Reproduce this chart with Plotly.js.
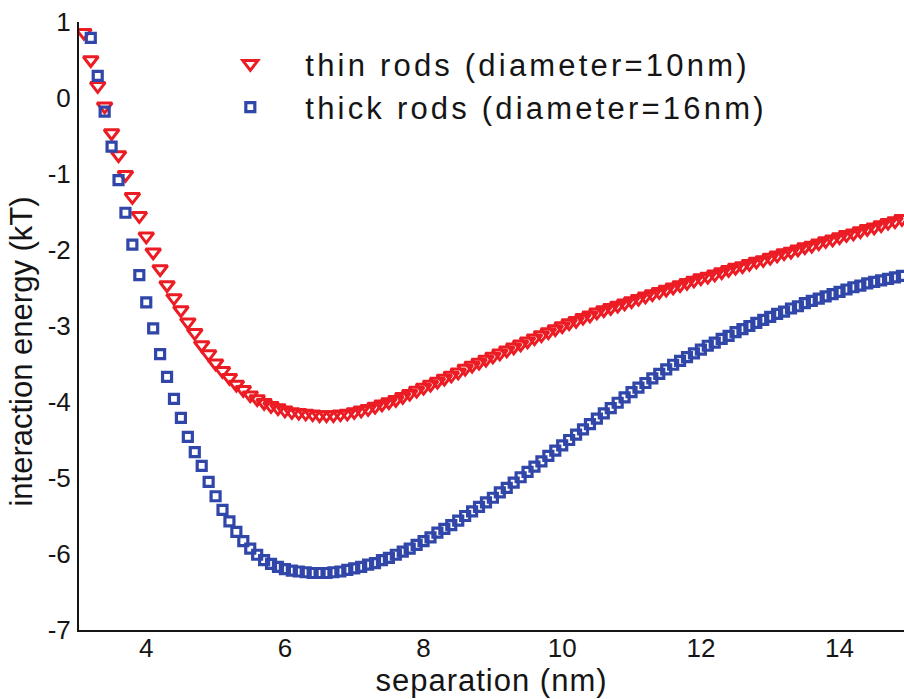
<!DOCTYPE html>
<html>
<head>
<meta charset="utf-8">
<script src="https://cdn.plot.ly/plotly-3.0.1.min.js"></script>
<style>
html,body{margin:0;padding:0;background:#fff;}
#chart{width:904px;height:699px;}
.legendtext{letter-spacing:3.2px;}
.xtitle{letter-spacing:1px;}
</style>
</head>
<body>
<div id="chart"></div>
<script>
// separation (nm) for thin rods
const thinX = [3.1,3.2,3.3,3.4,3.5,3.6,3.7,3.8,3.9,4.0,4.1,4.2,4.3,4.4,4.5,4.6,4.7,4.8,4.9,5.0,
5.1,5.2,5.3,5.4,5.5,5.6,5.7,5.8,5.9,6.0,6.1,6.2,6.3,6.4,6.5,6.6,6.7,6.8,6.9,7.0,
7.1,7.2,7.3,7.4,7.5,7.6,7.7,7.8,7.9,8.0,8.1,8.2,8.3,8.4,8.5,8.6,8.7,8.8,8.9,9.0,
9.1,9.2,9.3,9.4,9.5,9.6,9.7,9.8,9.9,10.0,10.1,10.2,10.3,10.4,10.5,10.6,10.7,10.8,10.9,11.0,
11.1,11.2,11.3,11.4,11.5,11.6,11.7,11.8,11.9,12.0,12.1,12.2,12.3,12.4,12.5,12.6,12.7,12.8,12.9,13.0,
13.1,13.2,13.3,13.4,13.5,13.6,13.7,13.8,13.9,14.0,14.1,14.2,14.3,14.4,14.5,14.6,14.7,14.8,14.9];
// interaction energy (kT) for thin rods
const thinY = [0.86,0.50,0.16,-0.11,-0.46,-0.75,-1.01,-1.30,-1.55,-1.82,-2.03,-2.25,-2.46,-2.63,-2.79,-2.95,-3.09,-3.25,-3.37,-3.49,
-3.59,-3.68,-3.77,-3.84,-3.91,-3.96,-4.01,-4.05,-4.08,-4.11,-4.13,-4.14,-4.15,-4.16,-4.17,-4.17,-4.17,-4.16,-4.15,-4.13,
-4.11,-4.09,-4.06,-4.03,-4.00,-3.97,-3.93,-3.89,-3.85,-3.81,-3.77,-3.73,-3.69,-3.65,-3.61,-3.56,-3.52,-3.48,-3.44,-3.40,
-3.36,-3.32,-3.28,-3.24,-3.20,-3.16,-3.12,-3.08,-3.04,-3.00,-2.96,-2.93,-2.89,-2.86,-2.82,-2.79,-2.76,-2.73,-2.70,-2.67,
-2.64,-2.61,-2.58,-2.55,-2.52,-2.49,-2.46,-2.43,-2.40,-2.37,-2.35,-2.32,-2.29,-2.26,-2.23,-2.21,-2.18,-2.15,-2.13,-2.10,
-2.07,-2.04,-2.02,-1.99,-1.96,-1.94,-1.91,-1.88,-1.86,-1.83,-1.80,-1.78,-1.75,-1.72,-1.70,-1.67,-1.64,-1.62,-1.59];

// separation (nm) for thick rods
const thickX = [3.2,3.3,3.4,3.5,3.6,3.7,3.8,3.9,4.0,4.1,4.2,4.3,4.4,4.5,4.6,4.7,4.8,4.9,5.0,
5.1,5.2,5.3,5.4,5.5,5.6,5.7,5.8,5.9,6.0,6.1,6.2,6.3,6.4,6.5,6.6,6.7,6.8,6.9,7.0,
7.1,7.2,7.3,7.4,7.5,7.6,7.7,7.8,7.9,8.0,8.1,8.2,8.3,8.4,8.5,8.6,8.7,8.8,8.9,9.0,
9.1,9.2,9.3,9.4,9.5,9.6,9.7,9.8,9.9,10.0,10.1,10.2,10.3,10.4,10.5,10.6,10.7,10.8,10.9,11.0,
11.1,11.2,11.3,11.4,11.5,11.6,11.7,11.8,11.9,12.0,12.1,12.2,12.3,12.4,12.5,12.6,12.7,12.8,12.9,13.0,
13.1,13.2,13.3,13.4,13.5,13.6,13.7,13.8,13.9,14.0,14.1,14.2,14.3,14.4,14.5,14.6,14.7,14.8,14.9];
// interaction energy (kT) for thick rods
const thickY = [0.79,0.29,-0.18,-0.64,-1.08,-1.51,-1.93,-2.33,-2.69,-3.03,-3.37,-3.67,-3.96,-4.21,-4.46,-4.66,-4.84,-5.05,-5.24,
-5.42,-5.57,-5.71,-5.83,-5.93,-6.01,-6.08,-6.13,-6.17,-6.20,-6.22,-6.23,-6.24,-6.25,-6.25,-6.25,-6.24,-6.23,-6.21,-6.19,
-6.17,-6.14,-6.12,-6.08,-6.05,-6.01,-5.97,-5.93,-5.88,-5.83,-5.78,-5.72,-5.67,-5.62,-5.56,-5.50,-5.44,-5.38,-5.32,-5.26,
-5.19,-5.13,-5.06,-4.99,-4.92,-4.85,-4.78,-4.71,-4.64,-4.57,-4.50,-4.43,-4.36,-4.29,-4.22,-4.15,-4.08,-4.01,-3.94,-3.87,
-3.81,-3.75,-3.69,-3.63,-3.57,-3.51,-3.46,-3.41,-3.36,-3.31,-3.26,-3.22,-3.17,-3.13,-3.08,-3.04,-3.00,-2.96,-2.92,-2.88,
-2.84,-2.81,-2.77,-2.74,-2.70,-2.67,-2.64,-2.61,-2.58,-2.55,-2.52,-2.49,-2.47,-2.44,-2.42,-2.40,-2.38,-2.36,-2.34];

const seriesNames = ['thin rods (diameter=10nm)', 'thick rods (diameter=16nm)'];
const xTicks = [4, 6, 8, 10, 12, 14];
const yTicks = [-7, -6, -5, -4, -3, -2, -1, 0, 1];
const xTitle = 'separation (nm)';
const yTitle = 'interaction energy (kT)';

const RED = 'rgb(236,28,36)';
const BLUE = 'rgb(48,70,168)';
const FONT = 'Liberation Sans, Arial, sans-serif';
const INK = '#151515';

const traces = [
  {
    x: thinX, y: thinY, name: seriesNames[0], type: 'scatter', mode: 'markers',
    marker: {symbol: 'triangle-down-open', size: 13, color: RED, line: {width: 3, color: RED}}
  },
  {
    x: thickX, y: thickY, name: seriesNames[1], type: 'scatter', mode: 'markers',
    marker: {symbol: 'square-open', size: 9, color: BLUE, line: {width: 3.2, color: BLUE}}
  }
];

const layout = {
  width: 904, height: 699,
  margin: {l: 79, r: 0, t: 22, b: 69},
  paper_bgcolor: '#fff', plot_bgcolor: '#fff',
  font: {family: FONT, color: INK},
  showlegend: true,
  legend: {
    x: 0.141, y: 0.975, xanchor: 'left', yanchor: 'top',
    bgcolor: 'rgba(0,0,0,0)', font: {size: 31, family: FONT, color: INK},
    itemwidth: 100, tracegroupgap: 0
  },
  xaxis: {
    range: [3.03, 14.93], tickvals: xTicks, ticktext: xTicks.map(String),
    showgrid: false, zeroline: false, showline: true, linecolor: INK, linewidth: 2,
    ticks: '', tickfont: {size: 26, family: FONT, color: INK}, ticklabelstandoff: -6,
    title: {text: xTitle, font: {size: 31, family: FONT, color: INK}, standoff: 7}
  },
  yaxis: {
    range: [-7, 1], tickvals: yTicks, ticktext: yTicks.map(String),
    showgrid: false, zeroline: false, showline: true, linecolor: INK, linewidth: 2,
    ticks: '', tickfont: {size: 26, family: FONT, color: INK}, ticklabelstandoff: 1
  },
  annotations: [{
    text: yTitle, xref: 'paper', yref: 'paper',
    x: -57 / 825, y: 0.458, xanchor: 'center', yanchor: 'middle',
    textangle: -90, showarrow: false,
    font: {size: 31, family: FONT, color: INK}
  }]
};

Plotly.newPlot('chart', traces, layout, {displayModeBar: false, staticPlot: true});
</script>
</body>
</html>
